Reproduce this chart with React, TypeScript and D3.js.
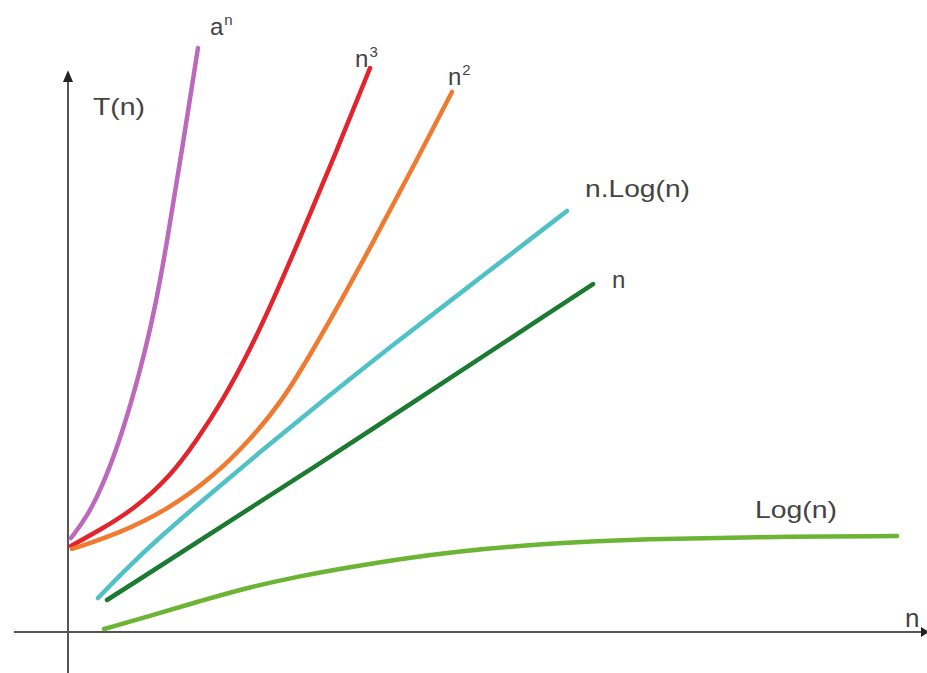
import React from "react";
import * as d3 from "d3";

// Curves, in abstract units (x: 0..100, y: 0..100)
const expCurve: [number, number][] = [
  [0.35, 15.93], [2.21, 19.49], [4.07, 24.92], [5.82, 31.69], [7.45, 39.32],
  [8.96, 47.46], [10.24, 55.76], [11.41, 65.08], [13.27, 81.69], [15.13, 98.98],
];
const cubeCurve: [number, number][] = [
  [0.35, 14.58], [3.73, 17.29], [7.57, 20.68], [11.87, 26.27], [15.02, 32.54],
  [18.04, 39.32], [21.19, 47.8], [24.1, 56.95], [27.01, 66.78], [31.08, 80.85],
  [35.16, 95.59],
];
const squareCurve: [number, number][] = [
  [0.47, 14.07], [6.05, 16.78], [11.53, 20.68], [16.88, 26.27], [21.19, 32.54],
  [25.03, 39.32], [28.52, 47.8], [31.66, 55.76], [35.16, 65.08], [39.81, 77.8],
  [44.7, 91.53],
];
const nlognCurve: [number, number][] = [
  [3.49, 5.76], [6.87, 10.85], [10.71, 16.1], [15.72, 22.37], [22.35, 30.51],
  [29.34, 38.81], [37.49, 48.31], [47.96, 60.0], [58.09, 71.36],
];
const linearCurve: [number, number][] = [
  [4.54, 5.42], [27.01, 26.27], [61.12, 58.98],
];
const logCurve: [number, number][] = [
  [4.19, 0.51], [9.55, 2.71], [15.37, 5.25], [21.19, 7.63], [27.01, 9.49],
  [32.83, 11.02], [38.65, 12.37], [44.47, 13.56], [56.11, 15.08], [67.75, 15.76],
  [79.39, 16.1], [96.51, 16.27],
];

const seriesNames = ["a", "n3", "n2", "nlogn", "n", "log"];
const seriesData = [expCurve, cubeCurve, squareCurve, nlognCurve, linearCurve, logCurve];
const seriesColors = ["#bc68bc", "#e2242c", "#ef7a30", "#50c1c7", "#1d7a33", "#6cb434"];

const labelBase = ["a", "n", "n", "n.Log(n)", "n", "Log(n)"];
const labelSup = ["n", "3", "2", "", "", ""];

const W = 927;
const H = 673;

export default function App() {
  const xs = d3.scaleLinear().domain([0, 100]).range([68, 927]);
  const ys = d3.scaleLinear().domain([0, 100]).range([632, 42]);
  const line = d3
    .line<[number, number]>()
    .x((d) => xs(d[0]))
    .y((d) => ys(d[1]))
    .curve(d3.curveBasis);

  const labelOffsets: [number, number][] = [
    [12, -13],
    [-15, -1],
    [-4, -7],
    [18, -14],
    [19, 4],
    [-142, -18],
  ];
  const labelWidths = [0, 0, 0, 105, 0, 82];

  const font = "'Liberation Sans', Arial, sans-serif";
  const textColor = "#444";

  const x0 = xs(0);
  const y0 = ys(0);

  return (
    <svg
      width={W}
      height={H}
      style={{ position: "absolute", left: 0, top: 0, background: "#fff" }}
    >
      <rect width={W} height={H} fill="#fff" />
      {/* axes */}
      <line x1={xs(-6.3)} x2={xs(100)} y1={y0} y2={y0} stroke="#555" strokeWidth={2} />
      <line x1={x0} x2={x0} y1={ys(-7)} y2={ys(93.5)} stroke="#555" strokeWidth={2} />
      <path
        d={`M${x0},${ys(95.2)} L${x0 - 5},${ys(93.2)} L${x0 + 5},${ys(93.2)} Z`}
        fill="#222"
      />
      <path
        d={`M${xs(100) + 2},${y0} L${xs(100) - 6},${y0 - 5} L${xs(100) - 6},${y0 + 5} Z`}
        fill="#222"
      />
      {/* curves */}
      {seriesData.map((d, i) => (
        <path
          key={seriesNames[i]}
          d={line(d) || ""}
          fill="none"
          stroke={seriesColors[i]}
          strokeWidth={4.5}
          strokeLinecap="round"
        />
      ))}
      {/* labels */}
      {seriesData.map((d, i) => {
        const end = d[d.length - 1];
        const lx = xs(end[0]) + labelOffsets[i][0];
        const ly = ys(end[1]) + labelOffsets[i][1];
        return (
          <text
            key={"l" + i}
            x={lx}
            y={ly}
            fontFamily={font}
            fontSize={24}
            fill={textColor}
            {...(labelWidths[i]
              ? { textLength: labelWidths[i], lengthAdjust: "spacingAndGlyphs" }
              : {})}
          >
            {labelBase[i]}
            {labelSup[i] ? (
              <tspan fontSize={15} dy={-10} dx={1}>
                {labelSup[i]}
              </tspan>
            ) : null}
          </text>
        );
      })}
      <text
        x={93}
        y={115}
        fontFamily={font}
        fontSize={24}
        fill={textColor}
        textLength={52}
        lengthAdjust="spacingAndGlyphs"
      >
        T(n)
      </text>
      <text x={905} y={627} fontFamily={font} fontSize={26} fill={textColor}>
        n
      </text>
    </svg>
  );
}
